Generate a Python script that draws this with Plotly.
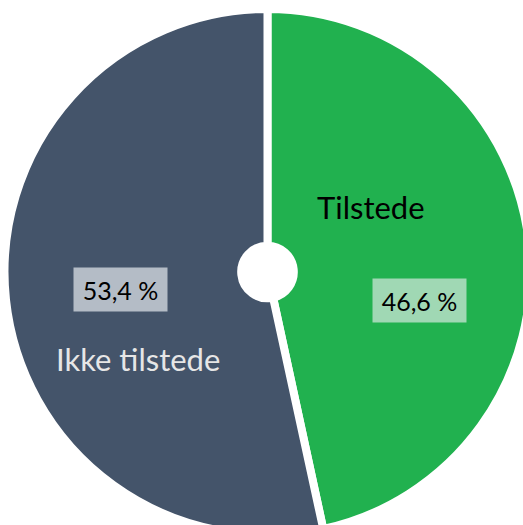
import plotly.graph_objects as go

categories = ["Tilstede", "Ikke tilstede"]
values = [46.6, 53.4]
colors = ["#21B14F", "#44546A"]
pct_labels = ["46,6 %", "53,4 %"]

W, H = 540, 545
cx, cy, r = 267.5, 272.0, 263.0

def px(x):
    return x / W

def py(y):
    return 1 - y / H

fig = go.Figure(go.Pie(
    labels=categories,
    values=values,
    sort=False,
    direction="clockwise",
    rotation=0,
    hole=0.1,
    marker=dict(colors=colors, line=dict(color="white", width=8)),
    textinfo="none",
    hoverinfo="skip",
    showlegend=False,
    domain=dict(x=[px(cx - r), px(cx + r)], y=[py(cy + r), py(cy - r)]),
))

font_family = "Lato, 'Open Sans', sans-serif"
annotations = [
    dict(x=px(371), y=py(207), text=categories[0], font=dict(size=31, color="#000000", family=font_family)),
    dict(x=px(137.5), y=py(359), text=categories[1], font=dict(size=31, color="#E6E6E6", family=font_family)),
    dict(x=px(419.5), y=py(300.5), text=pct_labels[0], font=dict(size=25, color="#000000", family=font_family),
         bgcolor="#A0D8B4", width=93, height=43, borderpad=0),
    dict(x=px(120.5), y=py(289.5), text=pct_labels[1], font=dict(size=25, color="#000000", family=font_family),
         bgcolor="#B4BCC6", width=93, height=43, borderpad=0),
]
for a in annotations:
    a.update(xref="paper", yref="paper", showarrow=False, xanchor="center", yanchor="middle")

fig.update_layout(
    width=W, height=H,
    margin=dict(l=0, r=0, t=0, b=0),
    paper_bgcolor="white",
    plot_bgcolor="white",
    annotations=annotations,
)

fig.write_html(
    "out.html",
    post_script="document.documentElement.style.overflow='hidden';document.body.style.overflow='hidden';document.body.style.margin='0';",
)
